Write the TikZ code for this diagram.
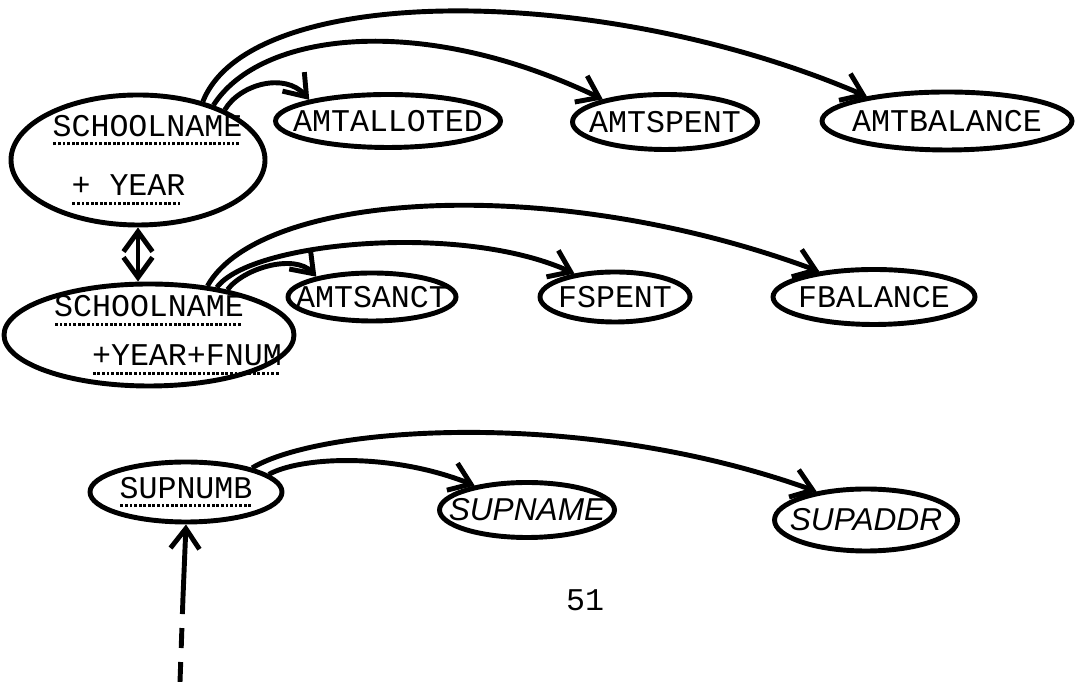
\documentclass[tikz,border=0pt]{standalone}
\usepackage{fontspec}
\setmonofont{Liberation Mono}
\newfontfamily\handfont{Liberation Sans}
\usetikzlibrary{shapes.geometric,arrows.meta}

% key fields get a dotted underline
\newcommand{\keyfld}[1]{%
  \setbox0\hbox{#1}%
  \rlap{\raisebox{-2.6pt}{\hbox to \wd0{\leaders\hbox to 1.3pt{\hss\rule{0.8pt}{0.8pt}\hss}\hfill}}}%
  \box0}

\begin{document}
\begin{tikzpicture}[
    line width=1.4pt,
    font=\ttfamily\fontsize{9}{11}\selectfont,
    >={Straight Barb[length=2mm,width=2.9mm]},
    attr/.style={draw, ellipse, inner xsep=-1cm, inner ysep=-0.4cm},
    hand/.style={attr, font=\handfont\itshape\fontsize{9}{11}\selectfont}
]
\useasboundingbox (0,0) rectangle (10.75,6.82);

% Yearly allotment per school
\node[attr, minimum width=2.54cm, minimum height=1.30cm, align=left] (sy) at (1.38,5.22)
    {\hspace*{0.6em}\keyfld{SCHOOLNAME}\\[6pt]\hspace*{1.2em}\keyfld{+ YEAR}};
\node[attr, minimum width=2.25cm, minimum height=0.53cm] (alloted) at (3.88,5.61) {AMTALLOTED};
\node[attr, minimum width=1.85cm, minimum height=0.55cm] (spent) at (6.65,5.60) {AMTSPENT};
\node[attr, minimum width=2.50cm, minimum height=0.58cm] (balance) at (9.47,5.61) {AMTBALANCE};

\draw[->] (sy.42) .. controls (2.5,7.0) and (6.0,7.0) .. (balance.163);
\draw[->] (sy.36) .. controls (2.6,6.5) and (4.2,6.7) .. (spent.160);
\draw[->] (sy.30) .. controls (2.4,5.98) and (2.85,6.1) .. (alloted.165);

% Funds per school, year and fund number
\node[attr, minimum width=2.90cm, minimum height=1.02cm, align=left] (syf) at (1.49,3.47)
    {\hspace*{1.2em}\keyfld{SCHOOLNAME}\\[3pt]\hspace*{2.4em}\keyfld{+YEAR+FNUM}};
\node[attr, minimum width=1.68cm, minimum height=0.48cm] (sanct) at (3.72,3.85) {AMTSANCT};
\node[attr, minimum width=1.50cm, minimum height=0.50cm] (fspent) at (6.15,3.85) {FSPENT};
\node[attr, minimum width=2.02cm, minimum height=0.55cm] (fbal) at (8.74,3.85) {FBALANCE};

\draw[<->] (sy.south) -- (sy.south |- syf.north);

\draw[->] (syf.40) .. controls (2.6,4.9) and (5.5,5.1) .. (fbal.155);
\draw[->] (syf.35) .. controls (2.5,4.4) and (4.6,4.6) .. (fspent.150);
\draw[->] (syf.30) .. controls (2.45,4.15) and (2.95,4.28) .. (sanct.160);

% Suppliers
\node[attr, minimum width=1.92cm, minimum height=0.60cm] (sup) at (1.86,1.90) {\keyfld{SUPNUMB}};
\node[hand, minimum width=1.75cm, minimum height=0.55cm] (supname) at (5.27,1.72) {SUPNAME};
\node[hand, minimum width=1.83cm, minimum height=0.62cm] (supaddr) at (8.66,1.62) {SUPADDR};

\draw[->] (sup.20) .. controls (3.2,2.55) and (5.8,2.75) .. (supaddr.150);
\draw[->] (sup.12) .. controls (3.0,2.25) and (3.9,2.3) .. (supname.155);

% incoming link from below
\coordinate (feed) at (1.80,0);
\coordinate (feedtop) at (1.83,0.85);
\draw[dash pattern=on 2mm off 1.4mm] (feed) -- (feedtop);
\draw[->] (feedtop) -- (sup.south);

\node (pagenum) at (5.85,0.82) {51};

\end{tikzpicture}
\end{document}
